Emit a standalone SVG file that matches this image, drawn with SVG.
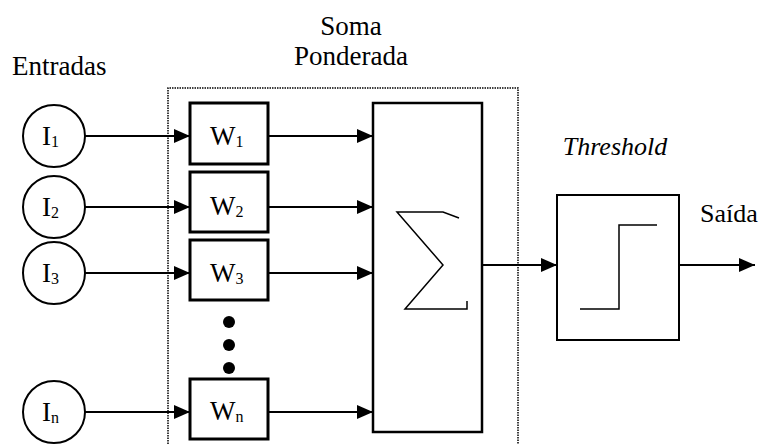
<svg xmlns="http://www.w3.org/2000/svg" width="762" height="444" viewBox="0 0 762 444">
<style>
text{font-family:"Liberation Serif","Times New Roman",serif;fill:#000}
.lbl{font-size:27px}
.sub{font-size:16px}
.c{fill:#fff;stroke:#000;stroke-width:2}
.w{fill:#fff;stroke:#000;stroke-width:3}
.b{fill:#fff;stroke:#000;stroke-width:2.5}
.ln{fill:none;stroke:#000;stroke-width:2}
.dot{fill:none;stroke:#000;stroke-width:1.5;stroke-dasharray:1.5 1}
</style>
<defs>
<marker id="ah" viewBox="0 0 16 14" refX="16" refY="7" markerWidth="16" markerHeight="14" markerUnits="userSpaceOnUse" orient="auto">
<path d="M0,0 L16,7 L0,14 Z" fill="#000"/>
</marker>
</defs>
<rect width="762" height="444" fill="#fff"/>
<g id="labels">
<text class="lbl" x="12" y="75">Entradas</text>
<text class="lbl" x="351" y="35" text-anchor="middle">Soma</text>
<text class="lbl" x="351" y="65" text-anchor="middle">Ponderada</text>
<text class="lbl" x="615" y="155" text-anchor="middle" style="font-style:italic;font-size:26px">Threshold</text>
<text class="lbl" x="729" y="222" text-anchor="middle" style="font-size:26px">Saída</text>
</g>
<g id="soma-ponderada-box">
<path class="dot" d="M168,444 V88 H518 V444"/>
</g>
<g id="connectors">
<line class="ln" x1="85" y1="136" x2="190" y2="136" marker-end="url(#ah)"/>
<line class="ln" x1="85" y1="207" x2="190" y2="207" marker-end="url(#ah)"/>
<line class="ln" x1="85" y1="273" x2="190" y2="273" marker-end="url(#ah)"/>
<line class="ln" x1="85" y1="412" x2="190" y2="412" marker-end="url(#ah)"/>
<line class="ln" x1="268" y1="136" x2="373" y2="136" marker-end="url(#ah)"/>
<line class="ln" x1="268" y1="207" x2="373" y2="207" marker-end="url(#ah)"/>
<line class="ln" x1="268" y1="273" x2="373" y2="273" marker-end="url(#ah)"/>
<line class="ln" x1="268" y1="412" x2="373" y2="412" marker-end="url(#ah)"/>
<line class="ln" x1="482" y1="265" x2="557" y2="265" marker-end="url(#ah)"/>
<line class="ln" x1="679" y1="265" x2="755" y2="265" marker-end="url(#ah)"/>
</g>
<g id="I1"><circle class="c" cx="54" cy="136" r="31"/><text class="lbl" x="42" y="145">I<tspan class="sub" dy="2">1</tspan></text></g>
<g id="I2"><circle class="c" cx="54" cy="207" r="31"/><text class="lbl" x="42" y="216">I<tspan class="sub" dy="2">2</tspan></text></g>
<g id="I3"><circle class="c" cx="54" cy="273" r="31"/><text class="lbl" x="42" y="282">I<tspan class="sub" dy="2">3</tspan></text></g>
<g id="In"><circle class="c" cx="54" cy="412" r="31"/><text class="lbl" x="42" y="421">I<tspan class="sub" dy="2">n</tspan></text></g>
<g id="W1"><rect class="w" x="190" y="103" width="78" height="61"/><text class="lbl" x="210" y="145">W<tspan class="sub" dy="2">1</tspan></text></g>
<g id="W2"><rect class="w" x="190" y="172" width="78" height="60"/><text class="lbl" x="210" y="215">W<tspan class="sub" dy="2">2</tspan></text></g>
<g id="W3"><rect class="w" x="190" y="240" width="78" height="60"/><text class="lbl" x="210" y="282">W<tspan class="sub" dy="2">3</tspan></text></g>
<g id="ellipsis"><circle cx="229" cy="322" r="6"/><circle cx="229" cy="345" r="6"/><circle cx="229" cy="368" r="6"/></g>
<g id="Wn"><rect class="w" x="190" y="379" width="78" height="60"/><text class="lbl" x="210" y="420">W<tspan class="sub" dy="2">n</tspan></text></g>
<g id="sum"><rect class="b" x="373" y="103" width="109" height="329"/>
<path fill="none" stroke="#000" stroke-width="1.5" d="M459,218 L443,212 H397 L443,265 L405,309 H467 V301"/></g>
<g id="threshold"><rect class="ln" x="557" y="195" width="122" height="145"/>
<path fill="none" stroke="#000" stroke-width="1.5" d="M580,309 H619 V225 H657"/></g>
</svg>
